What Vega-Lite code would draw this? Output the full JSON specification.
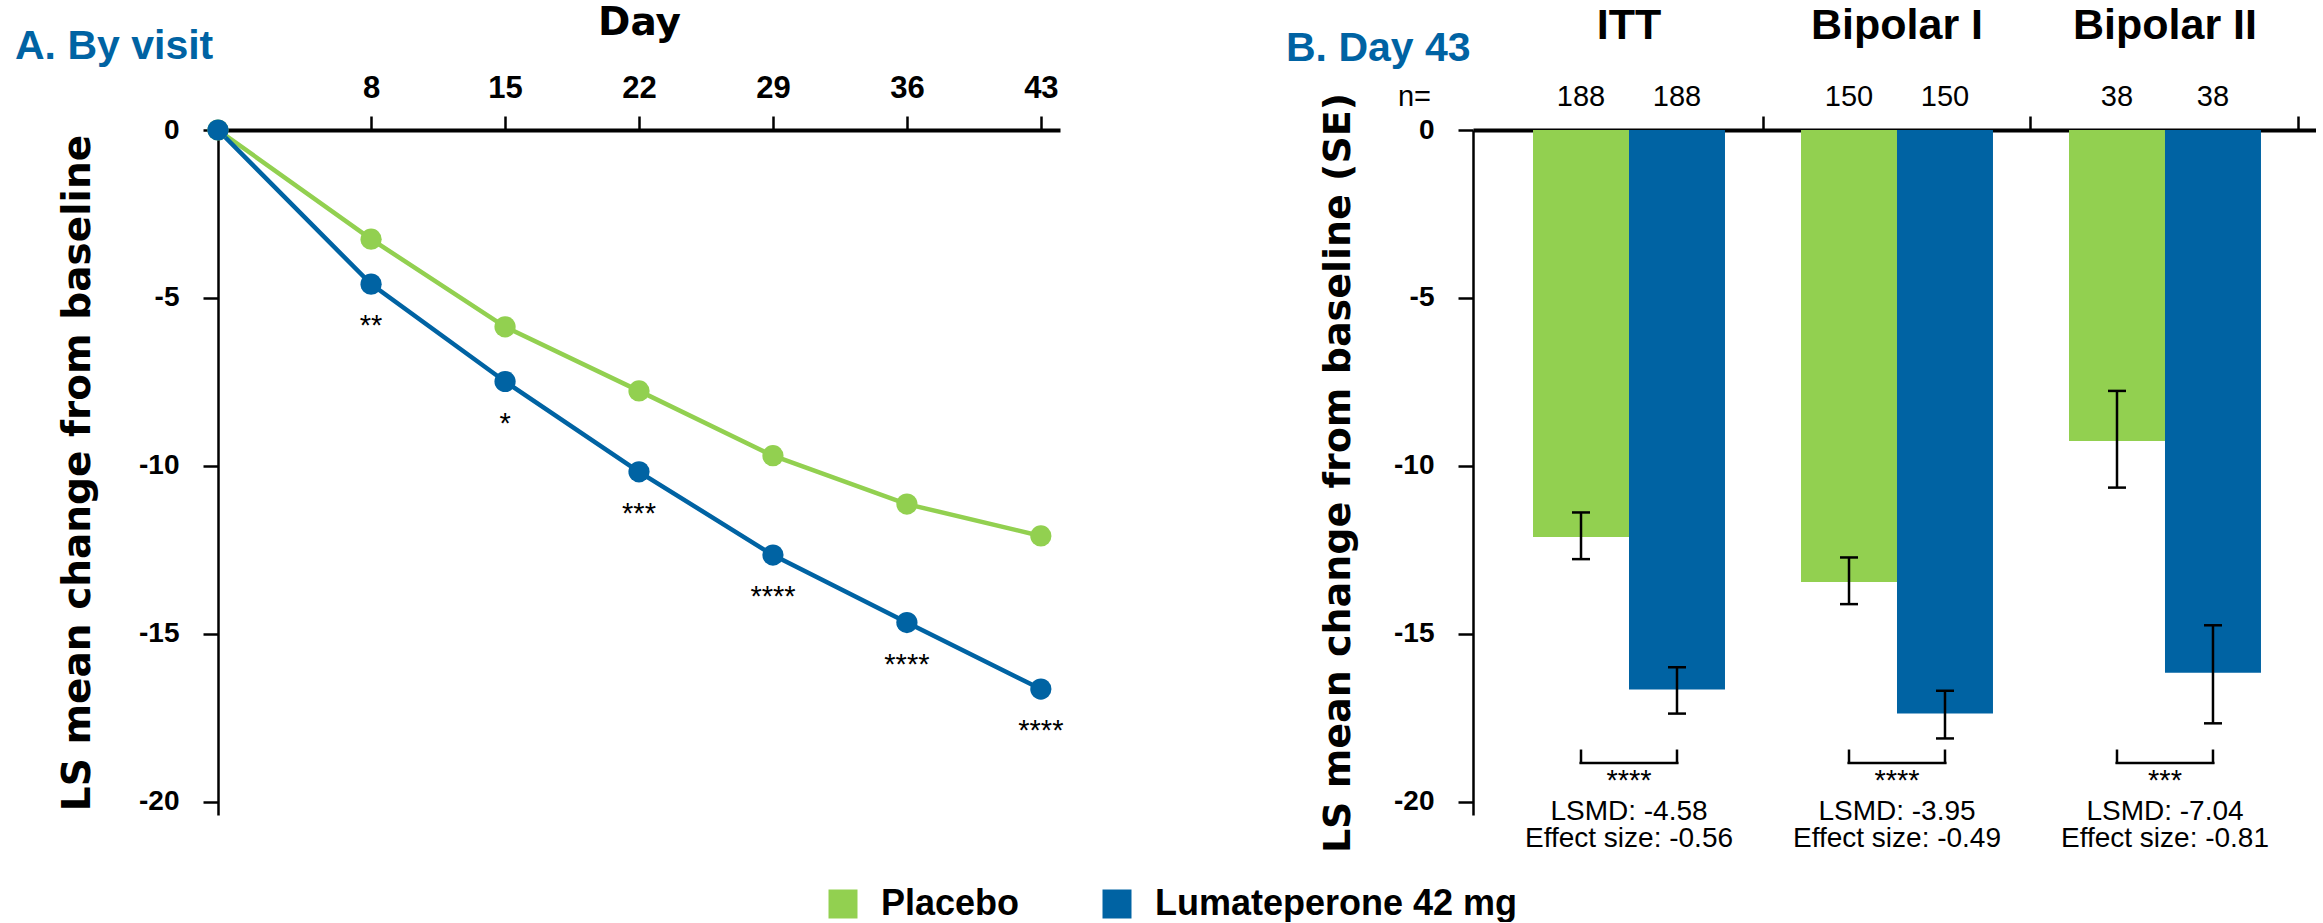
{
  "$schema": "https://vega.github.io/schema/vega-lite/v6.json",
  "background": "white",
  "padding": {"left": 15, "top": 3, "right": 0, "bottom": 0},
  "config": {
    "view": {"stroke": null},
    "font": "Liberation Sans",
    "axis": {"grid": false, "domainColor": "black", "tickColor": "black", "labelColor": "black", "titleColor": "black", "labelFont": "Liberation Sans", "labelFontWeight": "bold"}
  },
  "datasets": {
    "visits": [
      {"day": 0, "treatment": "Placebo", "change": 0, "sig": ""},
      {"day": 8, "treatment": "Placebo", "change": -3.25, "sig": ""},
      {"day": 15, "treatment": "Placebo", "change": -5.86, "sig": ""},
      {"day": 22, "treatment": "Placebo", "change": -7.77, "sig": ""},
      {"day": 29, "treatment": "Placebo", "change": -9.7, "sig": ""},
      {"day": 36, "treatment": "Placebo", "change": -11.14, "sig": ""},
      {"day": 43, "treatment": "Placebo", "change": -12.09, "sig": ""},
      {"day": 0, "treatment": "Lumateperone 42 mg", "change": 0, "sig": ""},
      {"day": 8, "treatment": "Lumateperone 42 mg", "change": -4.59, "sig": "**"},
      {"day": 15, "treatment": "Lumateperone 42 mg", "change": -7.49, "sig": "*"},
      {"day": 22, "treatment": "Lumateperone 42 mg", "change": -10.18, "sig": "***"},
      {"day": 29, "treatment": "Lumateperone 42 mg", "change": -12.66, "sig": "****"},
      {"day": 36, "treatment": "Lumateperone 42 mg", "change": -14.67, "sig": "****"},
      {"day": 43, "treatment": "Lumateperone 42 mg", "change": -16.65, "sig": "****"}
    ],
    "bars": [
      {"group": "ITT", "treatment": "Placebo", "change": -12.12, "lo": -12.78, "hi": -11.39, "n": "188"},
      {"group": "ITT", "treatment": "Lumateperone 42 mg", "change": -16.66, "lo": -17.38, "hi": -16.0, "n": "188"},
      {"group": "Bipolar I", "treatment": "Placebo", "change": -13.46, "lo": -14.12, "hi": -12.73, "n": "150"},
      {"group": "Bipolar I", "treatment": "Lumateperone 42 mg", "change": -17.38, "lo": -18.12, "hi": -16.7, "n": "150"},
      {"group": "Bipolar II", "treatment": "Placebo", "change": -9.26, "lo": -10.65, "hi": -7.77, "n": "38"},
      {"group": "Bipolar II", "treatment": "Lumateperone 42 mg", "change": -16.16, "lo": -17.67, "hi": -14.75, "n": "38"}
    ],
    "groups": [
      {"group": "ITT", "stars": "****", "label": "LSMD: -4.58\nEffect size: -0.56"},
      {"group": "Bipolar I", "stars": "****", "label": "LSMD: -3.95\nEffect size: -0.49"},
      {"group": "Bipolar II", "stars": "***", "label": "LSMD: -7.04\nEffect size: -0.81"}
    ]
  },
  "spacing": 413,
  "bounds": "flush",
  "resolve": {"scale": {"color": "shared"}, "legend": {"color": "independent"}},
  "hconcat": [
    {
      "width": 842,
      "height": 685,
      "title": {"text": "A. By visit", "anchor": "start", "frame": "group", "fontSize": 41, "fontWeight": "bold", "color": "#0063A3", "font": "Liberation Sans", "dx": -203, "baseline": "alphabetic", "offset": -97},
      "data": {"name": "visits"},
      "encoding": {
        "x": {"field": "day", "type": "quantitative",
          "scale": {"domain": [0, 44], "nice": false, "zero": false},
          "axis": {"orient": "top", "values": [8, 15, 22, 29, 36, 43], "title": "Day", "titleFontSize": 39, "titleFont": "DejaVu Sans", "titleFontWeight": "bold", "titlePadding": 30,
            "labelFontSize": 31, "labelPadding": 12, "tickSize": 14, "tickWidth": 2.5, "domainWidth": 4, "labelExpr": "'' + datum.value"}},
        "y": {"field": "change", "type": "quantitative",
          "scale": {"domain": [-20.4, 0], "nice": false},
          "axis": {"values": [0, -5, -10, -15, -20], "title": "LS mean change from baseline", "titleFont": "DejaVu Sans", "titleFontSize": 39, "titleFontWeight": "bold", "titlePadding": 41,
            "labelFontSize": 28, "labelPadding": 24, "tickSize": 15, "tickWidth": 2.5, "domainWidth": 2.5, "labelExpr": "'' + datum.value"}},
        "color": {"field": "treatment", "type": "nominal",
          "scale": {"domain": ["Placebo", "Lumateperone 42 mg"], "range": ["#92D050", "#0063A3"]},
          "legend": null}
      },
      "layer": [
        {"mark": {"type": "line", "strokeWidth": 4.5}},
        {"mark": {"type": "circle", "size": 450, "opacity": 1}},
        {"mark": {"type": "text", "baseline": "alphabetic", "dy": 51, "fontSize": 29, "color": "black", "font": "Liberation Sans"},
          "encoding": {"text": {"field": "sig"}, "color": {"value": "black"}}}
      ]
    },
    {
      "width": 843,
      "height": 685,
      "title": {"text": "B. Day 43", "anchor": "start", "frame": "group", "fontSize": 41, "fontWeight": "bold", "color": "#0063A3", "font": "Liberation Sans", "dx": -187, "baseline": "alphabetic", "offset": -97},
      "encoding": {
        "x": {"field": "group", "type": "nominal",
          "scale": {"domain": ["ITT", "Bipolar I", "Bipolar II"], "paddingInner": 0, "paddingOuter": 0.0728, "align": 0.564},
          "axis": {"orient": "top", "title": null, "labels": false, "bandPosition": 1, "tickSize": 14, "tickWidth": 2.5, "domainWidth": 4}},
        "y": {"type": "quantitative",
          "scale": {"domain": [-20.4, 0], "nice": false},
          "axis": {"values": [0, -5, -10, -15, -20], "title": "LS mean change from baseline (SE)", "titleFont": "DejaVu Sans", "titleFontSize": 38, "titleFontWeight": "bold", "titlePadding": 36,
            "labelFontSize": 28, "labelPadding": 24, "tickSize": 15, "tickWidth": 2.5, "domainWidth": 2.5, "labelExpr": "'' + datum.value"}}
      },
      "layer": [
        {"data": {"name": "bars"},
          "mark": {"type": "bar"},
          "encoding": {
            "xOffset": {"field": "treatment", "type": "nominal", "scale": {"domain": ["Placebo", "Lumateperone 42 mg"], "paddingInner": 0, "paddingOuter": 0.396}},
            "y": {"field": "change", "type": "quantitative"},
            "color": {"field": "treatment", "type": "nominal",
              "scale": {"domain": ["Placebo", "Lumateperone 42 mg"], "range": ["#92D050", "#0063A3"]},
              "legend": {"title": null, "orient": "none", "legendX": -648, "legendY": 756, "direction": "horizontal", "symbolType": "square", "symbolSize": 841, "symbolStrokeWidth": 0, "symbolOpacity": 1,
                "labelFontSize": 36, "labelFont": "Liberation Sans", "labelFontWeight": "bold", "labelColor": "black", "labelOffset": 20, "columnPadding": 79, "padding": 0, "labelLimit": 600}}
          }},
        {"data": {"name": "bars"},
          "mark": {"type": "rule", "strokeWidth": 2.5, "color": "black"},
          "encoding": {
            "xOffset": {"field": "treatment", "type": "nominal"},
            "y": {"field": "lo", "type": "quantitative"},
            "y2": {"field": "hi"}
          }},
        {"data": {"name": "bars"},
          "mark": {"type": "tick", "orient": "horizontal", "size": 18, "thickness": 2.5, "color": "black", "opacity": 1},
          "encoding": {
            "xOffset": {"field": "treatment", "type": "nominal"},
            "y": {"field": "lo", "type": "quantitative"}
          }},
        {"data": {"name": "bars"},
          "mark": {"type": "tick", "orient": "horizontal", "size": 18, "thickness": 2.5, "color": "black", "opacity": 1},
          "encoding": {
            "xOffset": {"field": "treatment", "type": "nominal"},
            "y": {"field": "hi", "type": "quantitative"}
          }},
        {"data": {"name": "bars"},
          "mark": {"type": "rule", "strokeWidth": 2.5, "color": "black"},
          "encoding": {
            "xOffset": {"field": "treatment", "type": "nominal"},
            "y": {"datum": -18.45, "type": "quantitative"},
            "y2": {"datum": -18.88}
          }},
        {"data": {"name": "bars"},
          "mark": {"type": "text", "baseline": "alphabetic", "fontSize": 29, "color": "black"},
          "encoding": {
            "xOffset": {"field": "treatment", "type": "nominal"},
            "y": {"datum": 0.7, "type": "quantitative"},
            "text": {"field": "n"}
          }},
        {"data": {"name": "groups"},
          "mark": {"type": "tick", "orient": "horizontal", "size": 99, "thickness": 2.5, "color": "black", "opacity": 1},
          "encoding": {
            "y": {"datum": -18.85, "type": "quantitative"}
          }},
        {"data": {"name": "groups"},
          "mark": {"type": "text", "baseline": "alphabetic", "fontSize": 29, "color": "black"},
          "encoding": {
            "y": {"datum": -19.65, "type": "quantitative"},
            "text": {"field": "stars"}
          }},
        {"data": {"name": "groups"},
          "mark": {"type": "text", "baseline": "alphabetic", "fontSize": 28, "lineBreak": "\n", "lineHeight": 27, "color": "black"},
          "encoding": {
            "y": {"datum": -20.54, "type": "quantitative"},
            "text": {"field": "label"}
          }},
        {"data": {"name": "groups"},
          "mark": {"type": "text", "baseline": "alphabetic", "fontSize": 43, "fontWeight": "bold", "color": "black"},
          "encoding": {
            "y": {"datum": 2.7, "type": "quantitative"},
            "text": {"field": "group"}
          }},
        {"data": {"values": [{"t": "n="}]},
          "mark": {"type": "text", "baseline": "alphabetic", "align": "right", "fontSize": 29, "dx": -64, "color": "black"},
          "encoding": {
            "x": {"datum": "ITT", "type": "nominal", "bandPosition": 0},
            "y": {"datum": 0.7, "type": "quantitative"},
            "text": {"field": "t"}
          }}
      ]
    }
  ]
}
